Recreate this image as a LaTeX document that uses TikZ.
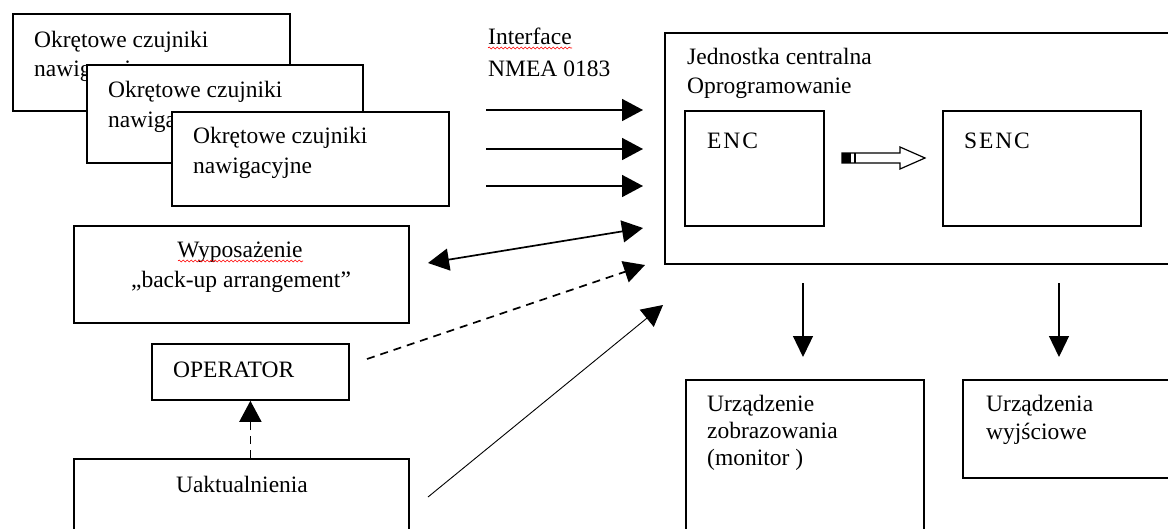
\documentclass[tikz,border=0pt]{standalone}
\usepackage{fontspec}
\setmainfont{Liberation Serif}
\usetikzlibrary{arrows.meta,decorations.pathmorphing}
\begin{document}
\begin{tikzpicture}[x=1pt,y=-1pt,
  box/.style={draw, line width=1.8pt, fill=white, inner sep=0pt, anchor=north west},
  txt/.style={anchor=base west, inner sep=0pt, font=\fontsize{23.5}{28}\selectfont},
  ctxt/.style={anchor=base, inner sep=0pt, font=\fontsize{23.5}{28}\selectfont},
  tip/.style={Triangle[length=21pt,width=22pt]},
  arr/.style={line width=1.7pt, -{Triangle[length=21pt,width=22pt]}},
  darr/.style={line width=1.7pt, {Triangle[length=21pt,width=22pt]}-{Triangle[length=21pt,width=22pt]}},
  wave/.style={red, line width=0.6pt, decorate, decoration={snake, amplitude=1pt, segment length=4pt}}]
\useasboundingbox (0,0) rectangle (1168,528);
% sensors (stacked)
\node[box, minimum width=277pt, minimum height=97pt] (s1) at (12,13) {};
\node[txt] (s1a) at (34,47) {Okrętowe czujniki};
\node[txt] (s1b) at (34,76) {nawigacyjne};
\node[box, minimum width=276pt, minimum height=98pt] (s2) at (86,64) {};
\node[txt] (s2a) at (108,97) {Okrętowe czujniki};
\node[txt] (s2b) at (108,127) {nawigacyjne};
\node[box, minimum width=277pt, minimum height=94pt] (s3) at (171,111) {};
\node[txt] (s3a) at (193,143) {Okrętowe czujniki};
\node[txt] (s3b) at (193,173) {nawigacyjne};
% interface label
\node[txt] (if1) at (488,44) {Interface};
\node[txt] (if2) at (488,76) {NMEA 0183};
\draw[wave] (488,48) -- (572,48);
% central unit
\node[box, minimum width=520pt, minimum height=231pt] (cpu) at (664,32) {};
\node[txt] (c1) at (687,64) {Jednostka centralna};
\node[txt] (c2) at (687,93) {Oprogramowanie};
\node[box, minimum width=139pt, minimum height=115pt] (enc) at (684,110) {};
\node[txt, font=\fontsize{23.5}{28}\selectfont\addfontfeature{LetterSpace=8}] (enct) at (707,148) {ENC};
\node[box, minimum width=198pt, minimum height=115pt] (senc) at (942,110) {};
\node[txt, font=\fontsize{23.5}{28}\selectfont\addfontfeature{LetterSpace=8}] (senct) at (964,148) {SENC};
% hollow arrow ENC -> SENC
\draw[line width=1.2pt, fill=white] (842,153) -- (900,153) -- (900,147) -- (925,158) -- (900,169) -- (900,163) -- (842,163) -- cycle;
\fill (842,153) rectangle (851,163);
\draw[line width=1.2pt] (855,153) -- (855,163);
% left boxes
\node[box, minimum width=335pt, minimum height=97pt] (wyp) at (73,225) {};
\node[ctxt] (w1) at (240,257) {Wyposażenie};
\node[ctxt] (w2) at (241,287) {„back-up arrangement”};
\draw[wave] (178,261) -- (303,261);
\node[box, minimum width=197pt, minimum height=56pt] (op) at (151,343) {};
\node[txt] (opt) at (173,377) {OPERATOR};
\node[box, minimum width=335pt, minimum height=90pt] (uak) at (73,458) {};
\node[ctxt] (uakt) at (242,492) {Uaktualnienia};
% output boxes
\node[box, minimum width=238pt, minimum height=170pt] (mon) at (685,379) {};
\node[txt] (m1) at (707,411) {Urządzenie};
\node[txt] (m2) at (707,438) {zobrazowania};
\node[txt] (m3) at (707,465) {(monitor )};
\node[box, minimum width=220pt, minimum height=98pt] (wyj) at (962,379) {};
\node[txt] (y1) at (986,411) {Urządzenia};
\node[txt] (y2) at (986,439) {wyjściowe};
% connector end points
\coordinate (h1s) at (486,110); \coordinate (h1e) at (643,110);
\coordinate (h2s) at (486,149); \coordinate (h2e) at (643,149);
\coordinate (h3s) at (486,186); \coordinate (h3e) at (643,186);
\coordinate (bs) at (428,263); \coordinate (be) at (643,228);
\coordinate (ds) at (367,359); \coordinate (de) at (645,265);
\coordinate (us) at (428,497); \coordinate (ue) at (663,305);
\coordinate (m1s) at (803,283); \coordinate (m1e) at (803,357);
\coordinate (m2s) at (1059,283); \coordinate (m2e) at (1059,357);
% connectors
\draw[arr] (h1s) -- (h1e);
\draw[arr] (h2s) -- (h2e);
\draw[arr] (h3s) -- (h3e);
\draw[darr] (bs) -- (be);
\draw[arr, dash pattern=on 8pt off 6pt] (ds) -- (de);
\draw[line width=0.9pt, -{Triangle[length=21pt,width=22pt]}] (us) -- (ue);
\draw[arr, dash pattern=on 8pt off 6pt] (op.south |- uak.north) -- (op.south);
\draw[line width=1.3pt, -{Triangle[length=21pt,width=20pt]}] (m1s) -- (m1e);
\draw[line width=1.3pt, -{Triangle[length=21pt,width=20pt]}] (m2s) -- (m2e);
\end{tikzpicture}
\end{document}
